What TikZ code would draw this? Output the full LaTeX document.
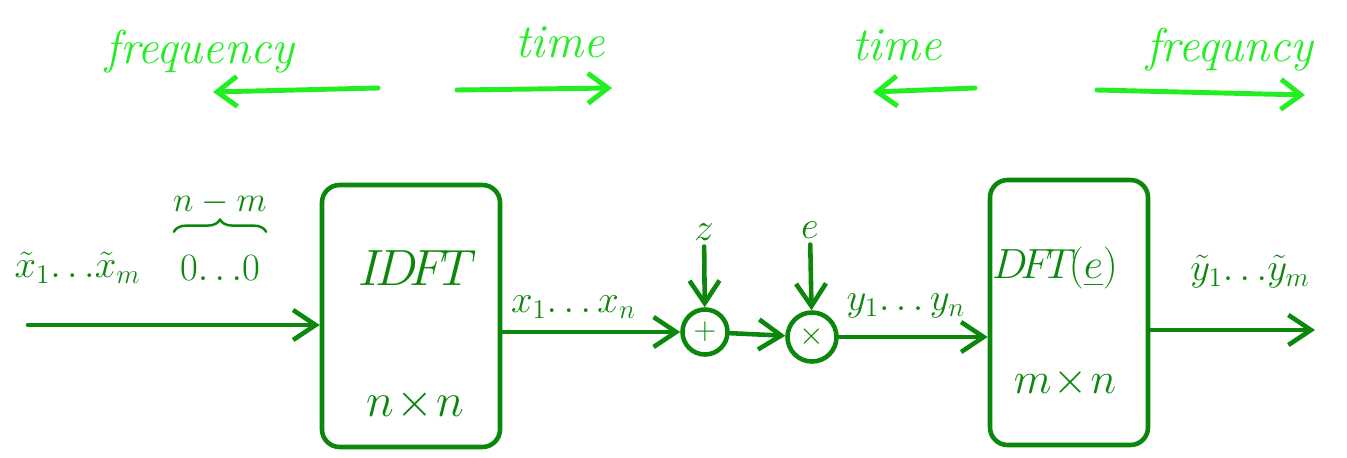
\RequirePackage{fix-cm}
\documentclass[tikz,border=0pt]{standalone}
\usepackage{amsmath,amssymb}
\usepackage{fontspec}
\usepackage{tikz}
\usetikzlibrary{arrows.meta,positioning,decorations.pathreplacing}
\usepackage{xcolor}
\definecolor{penline}{HTML}{0B870B}
\definecolor{chalkgreen}{HTML}{22EE22}

\begin{document}
\begin{tikzpicture}[line cap=round, line join=round,
  pen/.style={draw=penline, line width=2.6pt},
  flow/.style={pen, -{Straight Barb[length=4.5mm,width=6mm,line width=2.6pt]}},
  hint/.style={draw=chalkgreen, line width=2.8pt, -{Straight Barb[length=4mm,width=6mm,line width=2.8pt]}},
  block/.style={pen, rounded corners=10pt},
  mixer/.style={pen, circle, minimum size=0.9cm, inner sep=0pt, text=penline, font=\fontsize{18}{20}\selectfont},
  lbl/.style={text=penline, font=\fontsize{22}{24}\selectfont},
  big/.style={text=penline, font=\fontsize{27}{29}\selectfont},
  hand/.style={text=chalkgreen, font=\fontsize{27}{29}\selectfont\itshape}]
\useasboundingbox (0,0) rectangle (26.94,9.14);

% domain hints on top
\node[hand] (freqA) at (4.0,8.1) {frequency};
\node[hand] (timeA) at (11.2,8.3) {time};
\node[hand] (timeB) at (17.94,8.24) {time};
\node[hand] (freqB) at (24.6,8.14) {frequncy};
\coordinate (fA0) at (7.56,7.38); \coordinate (fA1) at (4.26,7.30);
\coordinate (tA0) at (9.14,7.34); \coordinate (tA1) at (12.24,7.38);
\coordinate (tB0) at (19.5,7.38); \coordinate (tB1) at (17.46,7.30);
\coordinate (fB0) at (21.94,7.34); \coordinate (fB1) at (26.1,7.24);
\draw[hint] (fA0) -- (fA1);
\draw[hint] (tA0) -- (tA1);
\draw[hint] (tB0) -- (tB1);
\draw[hint] (fB0) -- (fB1);

% transform blocks
\node[block, minimum width=3.56cm, minimum height=5.24cm] (idft) at (8.22,2.82) {};
\node[block, minimum width=3.16cm, minimum height=5.3cm] (dft) at (21.38,2.89) {};
\node[big, font=\fontsize{29}{31}\selectfont] (idftname) at (8.35,3.78) {$I\!D\!F\!T$};
\node[big] (idftsize) at (8.3,1.04) {$n\!\times\! n$};
\node[big, font=\fontsize{24}{26}\selectfont] (dftname) at (21.1,3.78) {$D\!F\!T\!(\underline{e})$};
\node[big, font=\fontsize{25}{27}\selectfont] (dftsize) at (21.3,1.48) {$m\!\times\! n$};

% input side
\coordinate (in) at (0.56,2.64);
\node[lbl] (xin) at (1.55,3.78) {$\tilde{x}_1\!\ldots\!\tilde{x}_m$};
\node[lbl] (zeros) at (4.4,3.78) {$0\!\ldots\!0$};
\draw[pen, line width=1.4pt, decorate, decoration={brace, amplitude=7pt}]
  ([yshift=10pt]zeros.north west) -- ([yshift=10pt]zeros.north east)
  node[midway, above=6pt, lbl, font=\fontsize{20}{22}\selectfont] (pad) {$n-m$};
\draw[flow] (in) -- (in -| idft.west);

% noise and gain
\node[mixer] (plus) at (14.1,2.5) {$+$};
\node[mixer, minimum size=0.98cm] (times) at (16.24,2.4) {$\times$};
\node[lbl] (noise) at (14.08,4.5) {$z$};
\node[lbl] (gain) at (16.2,4.54) {$e$};
\draw[flow] (noise) -- (plus);
\draw[flow] (gain) -- (times);
\draw[flow] (idft.east |- plus) -- node[lbl, above=3pt, pos=0.4] (xs) {$x_1\!\ldots x_n$} (plus);
\draw[flow] (plus) -- (times);
\draw[flow] (times) -- node[lbl, above=6pt, pos=0.45] (ys) {$y_1\!\ldots y_n$} (times -| dft.west);

% output side
\coordinate (out) at (26.3,2.54);
\draw[flow] (dft.east |- out) -- (out);
\node[lbl] (yout) at (25.0,3.7) {$\tilde{y}_1\!\ldots\!\tilde{y}_m$};
\end{tikzpicture}
\end{document}
